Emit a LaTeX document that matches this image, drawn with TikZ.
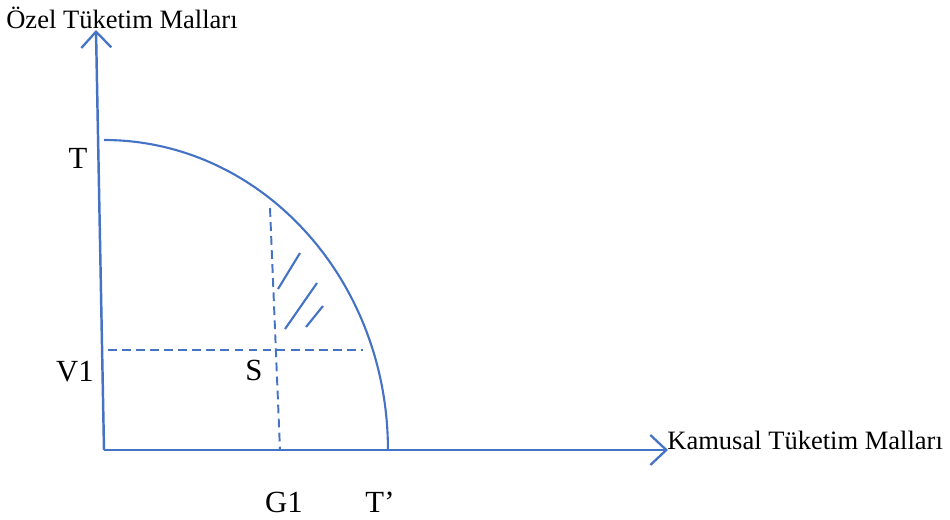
\documentclass[tikz,border=0pt]{standalone}
\usepackage{fontspec}
\setmainfont{Liberation Serif}
\usetikzlibrary{arrows.meta, positioning}
\definecolor{axisBlue}{RGB}{68,114,196}
\tikzset{
	axis/.style={
		line width=1.4pt,
		draw=axisBlue,
		-{Straight Barb[length=3.2mm, width=6mm, line width=1.3pt]},
	},
	frontier/.style={
		line width=1.2pt,
		draw=axisBlue,
	},
	guide/.style={
		line width=1.1pt,
		draw=axisBlue,
		dash pattern=on 5pt off 3pt,
	},
	hatch/.style={
		line width=1.2pt,
		draw=axisBlue,
	},
	axislabel/.style={font=\fontsize{15.1}{17}\selectfont, inner sep=0pt},
	pointlabel/.style={font=\fontsize{17.5}{19}\selectfont, inner sep=0pt},
}

\begin{document}
\begin{tikzpicture}[x=0.02cm, y=-0.02cm]
	\useasboundingbox (0,0) rectangle (950,520);

	% --- Axes ---
	\coordinate (O) at (104,450);
	\coordinate (ytip) at (96,30);
	\coordinate (xtip) at (668,450);
	\draw[axis] (O) -- (ytip);
	\draw[axis] (O) -- (xtip);

	\node[axislabel] (ylab) at (122,18) {Özel Tüketim Malları};
	\node[axislabel, anchor=west] (xlab) at (667,440) {Kamusal Tüketim Malları};

	% --- Possibility frontier ---
	\coordinate (Ttop) at (104,140);
	\coordinate (Tright) at (388,450);
	\draw[frontier] (Ttop) arc[start angle=90, end angle=0, x radius=5.68cm, y radius=6.2cm];

	% --- Guides through S ---
	\coordinate (gtop) at (270,208);
	\coordinate (gbot) at (280,450);
	\coordinate (vleft) at (108,350);
	\coordinate (vright) at (363,350);
	\draw[guide] (gtop) -- (gbot);
	\draw[guide] (vleft) -- (vright);

	% --- Shaded area ---
	\draw[hatch] (300,253) -- (278,289);
	\draw[hatch] (317,283) -- (285,329);
	\draw[hatch] (323,306) -- (306,327);

	% --- Labels ---
	\node[pointlabel] (T) at (78,158) {T};
	\node[pointlabel] (V1) at (75,372) {V1};
	\node[pointlabel] (S) at (254,370) {S};
	\node[pointlabel] (G1) at (284,502) {G1};
	\node[pointlabel] (Tp) at (380,502) {T’};
\end{tikzpicture}
\end{document}
